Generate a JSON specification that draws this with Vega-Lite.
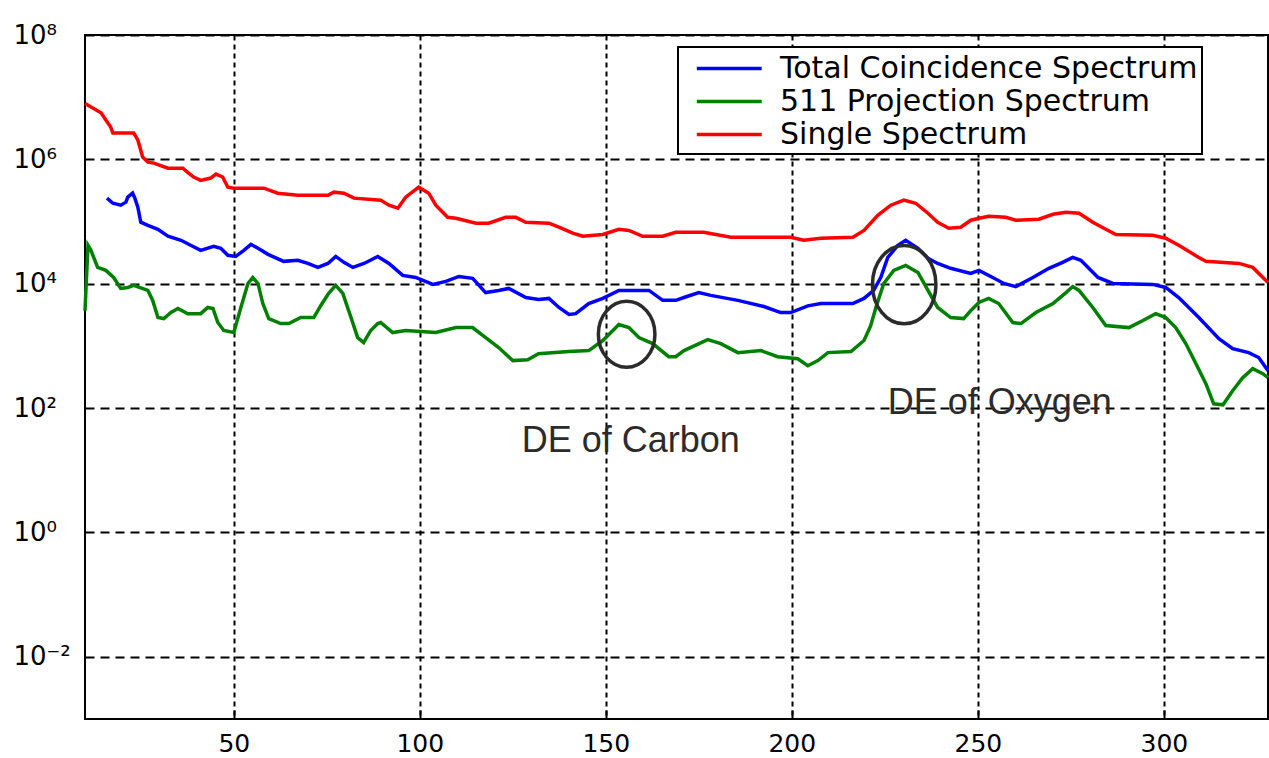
{
  "$schema": "https://vega.github.io/schema/vega-lite/v6.json",
  "width": 1183,
  "height": 684,
  "autosize": {"type": "none"},
  "padding": {"left": 85, "top": 35, "right": 1, "bottom": 39},
  "background": "white",
  "datasets": {
    "total": [
      {"channel": 15.9, "counts": 2.38e5}, {"channel": 17.5, "counts": 1.97e5}, {"channel": 19.6, "counts": 1.83e5}, {"channel": 21.0, "counts": 2.05e5},
      {"channel": 21.5, "counts": 2.47e5}, {"channel": 22.8, "counts": 2.86e5}, {"channel": 23.4, "counts": 2.38e5}, {"channel": 24.2, "counts": 1.70e5},
      {"channel": 25.0, "counts": 9.75e4}, {"channel": 26.9, "counts": 8.7e4}, {"channel": 29.6, "counts": 7.5e4}, {"channel": 32.3, "counts": 5.8e4},
      {"channel": 35.8, "counts": 5.0e4}, {"channel": 38.4, "counts": 4.15e4}, {"channel": 41.1, "counts": 3.44e4}, {"channel": 44.6, "counts": 4.0e4},
      {"channel": 46.5, "counts": 3.71e4}, {"channel": 48.4, "counts": 2.86e4}, {"channel": 50.5, "counts": 2.75e4}, {"channel": 52.7, "counts": 3.44e4},
      {"channel": 54.6, "counts": 4.3e4}, {"channel": 56.5, "counts": 3.71e4}, {"channel": 59.2, "counts": 2.97e4}, {"channel": 63.4, "counts": 2.29e4},
      {"channel": 67.2, "counts": 2.38e4}, {"channel": 69.9, "counts": 2.12e4}, {"channel": 72.6, "counts": 1.83e4}, {"channel": 75.3, "counts": 2.12e4},
      {"channel": 77.4, "counts": 2.75e4}, {"channel": 79.6, "counts": 2.21e4}, {"channel": 82.0, "counts": 1.83e4}, {"channel": 85.0, "counts": 2.12e4},
      {"channel": 88.7, "counts": 2.75e4}, {"channel": 91.7, "counts": 2.12e4}, {"channel": 95.4, "counts": 1.36e4}, {"channel": 98.9, "counts": 1.26e4},
      {"channel": 103.5, "counts": 9.75e3}, {"channel": 107.0, "counts": 1.09e4}, {"channel": 110.5, "counts": 1.31e4}, {"channel": 114.2, "counts": 1.22e4},
      {"channel": 117.7, "counts": 7.2e3}, {"channel": 121.2, "counts": 7.8e3}, {"channel": 123.9, "counts": 8.4e3}, {"channel": 128.5, "counts": 6.0e3},
      {"channel": 132.0, "counts": 5.6e3}, {"channel": 134.7, "counts": 5.8e3}, {"channel": 137.4, "counts": 4.15e3}, {"channel": 140.1, "counts": 3.2e3},
      {"channel": 141.9, "counts": 3.3e3}, {"channel": 145.4, "counts": 4.8e3}, {"channel": 149.2, "counts": 5.8e3}, {"channel": 153.5, "counts": 7.8e3},
      {"channel": 161.6, "counts": 7.8e3}, {"channel": 165.3, "counts": 5.4e3}, {"channel": 168.8, "counts": 5.4e3}, {"channel": 171.0, "counts": 6.0e3},
      {"channel": 175.0, "counts": 7.2e3}, {"channel": 178.2, "counts": 6.5e3}, {"channel": 185.5, "counts": 5.4e3}, {"channel": 192.5, "counts": 4.3e3},
      {"channel": 197.0, "counts": 3.44e3}, {"channel": 199.7, "counts": 3.44e3}, {"channel": 204.3, "counts": 4.4e3}, {"channel": 207.8, "counts": 4.8e3},
      {"channel": 216.4, "counts": 4.8e3}, {"channel": 219.4, "counts": 5.8e3}, {"channel": 222.0, "counts": 7.8e3}, {"channel": 223.9, "counts": 1.26e4},
      {"channel": 225.8, "counts": 2.65e4}, {"channel": 228.5, "counts": 4.15e4}, {"channel": 230.6, "counts": 5.0e4}, {"channel": 233.9, "counts": 3.71e4},
      {"channel": 236.6, "counts": 2.56e4}, {"channel": 239.2, "counts": 2.12e4}, {"channel": 242.7, "counts": 1.77e4}, {"channel": 248.1, "counts": 1.47e4},
      {"channel": 250.3, "counts": 1.64e4}, {"channel": 254.0, "counts": 1.26e4}, {"channel": 257.0, "counts": 1.01e4}, {"channel": 260.2, "counts": 9.0e3},
      {"channel": 264.8, "counts": 1.26e4}, {"channel": 269.1, "counts": 1.77e4}, {"channel": 272.8, "counts": 2.21e4}, {"channel": 275.5, "counts": 2.65e4},
      {"channel": 277.7, "counts": 2.38e4}, {"channel": 282.3, "counts": 1.26e4}, {"channel": 286.3, "counts": 1.01e4}, {"channel": 297.0, "counts": 9.75e3},
      {"channel": 300.5, "counts": 8.7e3}, {"channel": 304.0, "counts": 6.0e3}, {"channel": 309.4, "counts": 2.86e3}, {"channel": 314.8, "counts": 1.31e3},
      {"channel": 318.5, "counts": 9.0e2}, {"channel": 322.8, "counts": 7.8e2}, {"channel": 325.5, "counts": 6.5e2}, {"channel": 328, "counts": 4.0e2}
    ],
    "projection": [
      {"channel": 10, "counts": 3.7e3}, {"channel": 10.8, "counts": 4.15e4}, {"channel": 11.6, "counts": 3.44e4}, {"channel": 13.4, "counts": 1.83e4},
      {"channel": 15.6, "counts": 1.64e4}, {"channel": 17.7, "counts": 1.26e4}, {"channel": 19.6, "counts": 8.4e3}, {"channel": 21.5, "counts": 8.7e3},
      {"channel": 23.1, "counts": 9.4e3}, {"channel": 26.9, "counts": 7.8e3}, {"channel": 28.2, "counts": 5.4e3}, {"channel": 29.6, "counts": 2.86e3},
      {"channel": 31.2, "counts": 2.75e3}, {"channel": 33.1, "counts": 3.44e3}, {"channel": 35.0, "counts": 4.0e3}, {"channel": 37.6, "counts": 3.3e3},
      {"channel": 41.1, "counts": 3.3e3}, {"channel": 43.0, "counts": 4.15e3}, {"channel": 44.4, "counts": 4.0e3}, {"channel": 45.7, "counts": 2.38e3},
      {"channel": 47.3, "counts": 1.77e3}, {"channel": 50.0, "counts": 1.64e3}, {"channel": 51.9, "counts": 4.15e3}, {"channel": 53.8, "counts": 1.01e4},
      {"channel": 55.1, "counts": 1.26e4}, {"channel": 56.5, "counts": 1.01e4}, {"channel": 57.8, "counts": 4.8e3}, {"channel": 59.4, "counts": 2.75e3},
      {"channel": 62.6, "counts": 2.29e3}, {"channel": 64.8, "counts": 2.29e3}, {"channel": 68.0, "counts": 2.86e3}, {"channel": 71.5, "counts": 2.86e3},
      {"channel": 73.4, "counts": 4.47e3}, {"channel": 75.5, "counts": 7.0e3}, {"channel": 77.4, "counts": 9.4e3}, {"channel": 79.3, "counts": 7.0e3},
      {"channel": 81.5, "counts": 2.86e3}, {"channel": 83.3, "counts": 1.36e3}, {"channel": 84.9, "counts": 1.13e3}, {"channel": 86.8, "counts": 1.77e3},
      {"channel": 88.7, "counts": 2.29e3}, {"channel": 89.5, "counts": 2.38e3}, {"channel": 92.7, "counts": 1.64e3}, {"channel": 96.2, "counts": 1.77e3},
      {"channel": 104.3, "counts": 1.64e3}, {"channel": 109.7, "counts": 1.97e3}, {"channel": 114.2, "counts": 1.97e3}, {"channel": 117.7, "counts": 1.36e3},
      {"channel": 121.2, "counts": 9.4e2}, {"channel": 125.0, "counts": 5.8e2}, {"channel": 129.0, "counts": 6.0e2}, {"channel": 131.9, "counts": 7.5e2},
      {"channel": 140.1, "counts": 8.1e2}, {"channel": 145.4, "counts": 8.4e2}, {"channel": 149.2, "counts": 1.22e3}, {"channel": 151.9, "counts": 1.77e3},
      {"channel": 153.5, "counts": 2.21e3}, {"channel": 156.2, "counts": 1.97e3}, {"channel": 158.9, "counts": 1.36e3}, {"channel": 162.6, "counts": 1.09e3},
      {"channel": 166.9, "counts": 6.7e2}, {"channel": 168.8, "counts": 6.7e2}, {"channel": 171.0, "counts": 8.4e2}, {"channel": 177.4, "counts": 1.26e3},
      {"channel": 180.9, "counts": 1.09e3}, {"channel": 185.5, "counts": 7.8e2}, {"channel": 191.7, "counts": 8.4e2}, {"channel": 196.2, "counts": 6.7e2},
      {"channel": 201.6, "counts": 6.2e2}, {"channel": 204.3, "counts": 4.8e2}, {"channel": 207.0, "counts": 5.8e2}, {"channel": 209.7, "counts": 7.8e2},
      {"channel": 215.9, "counts": 8.1e2}, {"channel": 219.4, "counts": 1.22e3}, {"channel": 221.2, "counts": 2.12e3}, {"channel": 222.6, "counts": 4.15e3},
      {"channel": 224.7, "counts": 1.01e4}, {"channel": 227.4, "counts": 1.64e4}, {"channel": 230.6, "counts": 1.97e4}, {"channel": 233.9, "counts": 1.52e4},
      {"channel": 236.6, "counts": 7.8e3}, {"channel": 239.2, "counts": 4.15e3}, {"channel": 242.7, "counts": 2.86e3}, {"channel": 246.2, "counts": 2.75e3},
      {"channel": 248.1, "counts": 3.7e3}, {"channel": 250.3, "counts": 5.0e3}, {"channel": 252.9, "counts": 5.8e3}, {"channel": 255.6, "counts": 4.8e3},
      {"channel": 259.4, "counts": 2.38e3}, {"channel": 261.6, "counts": 2.29e3}, {"channel": 265.6, "counts": 3.44e3}, {"channel": 270.2, "counts": 4.8e3},
      {"channel": 273.7, "counts": 7.2e3}, {"channel": 275.5, "counts": 9.0e3}, {"channel": 277.2, "counts": 7.8e3}, {"channel": 280.9, "counts": 4.15e3},
      {"channel": 284.4, "counts": 2.12e3}, {"channel": 290.6, "counts": 1.97e3}, {"channel": 294.4, "counts": 2.56e3}, {"channel": 297.8, "counts": 3.3e3},
      {"channel": 300.5, "counts": 2.86e3}, {"channel": 303.2, "counts": 1.97e3}, {"channel": 305.9, "counts": 1.09e3}, {"channel": 308.6, "counts": 5.2e2},
      {"channel": 311.3, "counts": 2.47e2}, {"channel": 313.4, "counts": 1.17e2}, {"channel": 315.9, "counts": 1.13e2}, {"channel": 318.5, "counts": 1.9e2},
      {"channel": 321.2, "counts": 3.08e2}, {"channel": 323.9, "counts": 4.3e2}, {"channel": 326.6, "counts": 3.57e2}, {"channel": 328, "counts": 3.08e2}
    ],
    "single": [
      {"channel": 10, "counts": 7.9e6}, {"channel": 14.3, "counts": 5.6e6}, {"channel": 16.9, "counts": 3.3e6}, {"channel": 17.5, "counts": 2.65e6},
      {"channel": 23.1, "counts": 2.65e6}, {"channel": 24.2, "counts": 2.05e6}, {"channel": 25.5, "counts": 1.09e6}, {"channel": 26.9, "counts": 9.0e5},
      {"channel": 28.5, "counts": 8.7e5}, {"channel": 32.3, "counts": 7.2e5}, {"channel": 36.3, "counts": 7.2e5}, {"channel": 37.6, "counts": 6.2e5},
      {"channel": 39.2, "counts": 5.2e5}, {"channel": 41.1, "counts": 4.6e5}, {"channel": 43.8, "counts": 5.0e5}, {"channel": 45.2, "counts": 5.8e5},
      {"channel": 47.0, "counts": 5.2e5}, {"channel": 48.4, "counts": 3.57e5}, {"channel": 50, "counts": 3.44e5}, {"channel": 58.1, "counts": 3.44e5},
      {"channel": 61.8, "counts": 2.86e5}, {"channel": 67.2, "counts": 2.65e5}, {"channel": 75.3, "counts": 2.65e5}, {"channel": 76.9, "counts": 2.97e5},
      {"channel": 79.6, "counts": 2.86e5}, {"channel": 82.3, "counts": 2.38e5}, {"channel": 89.5, "counts": 2.21e5}, {"channel": 91.7, "counts": 1.83e5},
      {"channel": 94.1, "counts": 1.64e5}, {"channel": 96.2, "counts": 2.47e5}, {"channel": 99.7, "counts": 3.57e5}, {"channel": 102.4, "counts": 2.86e5},
      {"channel": 104.3, "counts": 1.83e5}, {"channel": 107.5, "counts": 1.17e5}, {"channel": 109.7, "counts": 1.13e5}, {"channel": 115.1, "counts": 9.4e4},
      {"channel": 118.5, "counts": 9.4e4}, {"channel": 123.1, "counts": 1.17e5}, {"channel": 125.8, "counts": 1.17e5}, {"channel": 128.5, "counts": 9.75e4},
      {"channel": 134.7, "counts": 9.4e4}, {"channel": 137.4, "counts": 8.1e4}, {"channel": 141.1, "counts": 6.5e4}, {"channel": 143.8, "counts": 5.8e4},
      {"channel": 149.2, "counts": 6.2e4}, {"channel": 153.5, "counts": 7.5e4}, {"channel": 156.2, "counts": 7.2e4}, {"channel": 159.9, "counts": 5.8e4},
      {"channel": 165.3, "counts": 5.8e4}, {"channel": 168.8, "counts": 6.7e4}, {"channel": 176.3, "counts": 6.7e4}, {"channel": 183.6, "counts": 5.6e4},
      {"channel": 199.7, "counts": 5.6e4}, {"channel": 203.2, "counts": 5.0e4}, {"channel": 207.8, "counts": 5.4e4}, {"channel": 216.4, "counts": 5.6e4},
      {"channel": 219.4, "counts": 7.2e4}, {"channel": 223.1, "counts": 1.26e5}, {"channel": 226.6, "counts": 1.83e5}, {"channel": 230.1, "counts": 2.21e5},
      {"channel": 233.3, "counts": 1.97e5}, {"channel": 236.6, "counts": 1.36e5}, {"channel": 239.2, "counts": 9.75e4}, {"channel": 242.2, "counts": 7.8e4},
      {"channel": 245.4, "counts": 8.1e4}, {"channel": 248.1, "counts": 1.05e5}, {"channel": 250.3, "counts": 1.13e5}, {"channel": 252.9, "counts": 1.22e5},
      {"channel": 257.5, "counts": 1.17e5}, {"channel": 260.2, "counts": 1.05e5}, {"channel": 266.4, "counts": 1.09e5}, {"channel": 270.2, "counts": 1.31e5},
      {"channel": 273.7, "counts": 1.41e5}, {"channel": 277.2, "counts": 1.36e5}, {"channel": 280.9, "counts": 9.75e4}, {"channel": 284.4, "counts": 7.5e4},
      {"channel": 287.1, "counts": 6.2e4}, {"channel": 297.0, "counts": 6.0e4}, {"channel": 300.5, "counts": 5.4e4}, {"channel": 304.0, "counts": 4.15e4},
      {"channel": 309.4, "counts": 2.65e4}, {"channel": 311.3, "counts": 2.29e4}, {"channel": 320.2, "counts": 2.12e4}, {"channel": 323.9, "counts": 1.83e4},
      {"channel": 328, "counts": 1.05e4}
    ],
    "peaks": [
      {"peak": "Carbon", "channel": 155.6, "counts": 1540},
      {"peak": "Oxygen", "channel": 230.2, "counts": 9660}
    ],
    "notes": [
      {"note": "DE of Carbon", "channel": 156.7, "counts": 29.7},
      {"note": "DE of Oxygen", "channel": 255.9, "counts": 122}
    ]
  },
  "encoding": {
    "x": {
      "field": "channel",
      "type": "quantitative",
      "scale": {"domain": [10, 328], "nice": false, "zero": false},
      "axis": {
        "title": null,
        "values": [50, 100, 150, 200, 250, 300],
        "grid": true,
        "gridColor": "black",
        "gridOpacity": 1,
        "gridWidth": 2,
        "gridDash": [5, 4],
        "domain": false,
        "ticks": true,
        "tickSize": -9,
        "tickWidth": 2,
        "tickColor": "black",
        "labelPadding": 21,
        "labelFont": "DejaVu Sans",
        "labelFontSize": 25,
        "labelColor": "black"
      }
    },
    "y": {
      "field": "counts",
      "type": "quantitative",
      "scale": {"type": "log", "domain": [0.001, 100000000], "nice": false},
      "axis": {
        "title": null,
        "values": [0.01, 1, 100, 10000, 1000000, 100000000],
        "labelExpr": "datum.value > 1e7 ? '10⁸' : datum.value > 1e5 ? '10⁶' : datum.value > 1e3 ? '10⁴' : datum.value > 10 ? '10²' : datum.value > 0.1 ? '10⁰' : '10⁻²'",
        "grid": true,
        "gridColor": "black",
        "gridOpacity": 1,
        "gridWidth": 2,
        "gridDash": [9, 6],
        "domain": false,
        "ticks": false,
        "tickSize": 0,
        "labelAlign": "left",
        "labelBaseline": "middle",
        "labelPadding": 72,
        "labelFont": "DejaVu Sans",
        "labelFontSize": 26,
        "labelColor": "black"
      }
    }
  },
  "layer": [
    {
      "data": {"name": "total"},
      "mark": {"type": "line", "strokeWidth": 3.5},
      "encoding": {
        "color": {
          "datum": "Total Coincidence Spectrum",
          "type": "nominal",
          "scale": {
            "domain": ["Total Coincidence Spectrum", "511 Projection Spectrum", "Single Spectrum"],
            "range": ["#0000ff", "#008000", "#ff0000"]
          },
          "legend": {
            "title": null,
            "orient": "none",
            "legendX": 593,
            "legendY": 12,
            "direction": "vertical",
            "fillColor": "white",
            "strokeColor": "black",
            "padding": 4,
            "rowPadding": 0,
            "symbolType": "M-0.17,0L3.95,0",
            "symbolSize": 992,
            "symbolStrokeWidth": 3.5,
            "labelOffset": 63,
            "labelExpr": "datum.label + '\u00a0\u00a0\u00a0\u00a0\u00a0\u00a0'",
            "labelFont": "DejaVu Sans",
            "labelFontSize": 30,
            "labelColor": "black",
            "labelLimit": 1000
          }
        }
      }
    },
    {
      "data": {"name": "projection"},
      "mark": {"type": "line", "strokeWidth": 3.5},
      "encoding": {"color": {"datum": "511 Projection Spectrum", "type": "nominal"}}
    },
    {
      "data": {"name": "single"},
      "mark": {"type": "line", "strokeWidth": 3.5},
      "encoding": {"color": {"datum": "Single Spectrum", "type": "nominal"}}
    },
    {
      "data": {"name": "peaks"},
      "mark": {"type": "point", "filled": false, "stroke": "#2b2b2b", "strokeWidth": 3.5, "opacity": 1},
      "encoding": {
        "shape": {
          "field": "peak",
          "type": "nominal",
          "scale": {
            "domain": ["Carbon", "Oxygen"],
            "range": [
              "M-0.857,0A0.857,1,0,1,1,0.857,0A0.857,1,0,1,1,-0.857,0Z",
              "M-0.81,0A0.81,1,0,1,1,0.81,0A0.81,1,0,1,1,-0.81,0Z"
            ]
          },
          "legend": null
        },
        "size": {
          "field": "peak",
          "type": "nominal",
          "scale": {"domain": ["Carbon", "Oxygen"], "range": [4356, 6147]},
          "legend": null
        }
      }
    },
    {
      "data": {"name": "notes"},
      "mark": {"type": "text", "font": "Liberation Sans", "fontSize": 36, "fill": "#2b2b2b", "align": "center", "baseline": "middle"},
      "encoding": {"text": {"field": "note"}}
    }
  ],
  "config": {
    "view": {"stroke": "black", "strokeWidth": 2},
    "legend": {"strokeWidth": 2}
  }
}
